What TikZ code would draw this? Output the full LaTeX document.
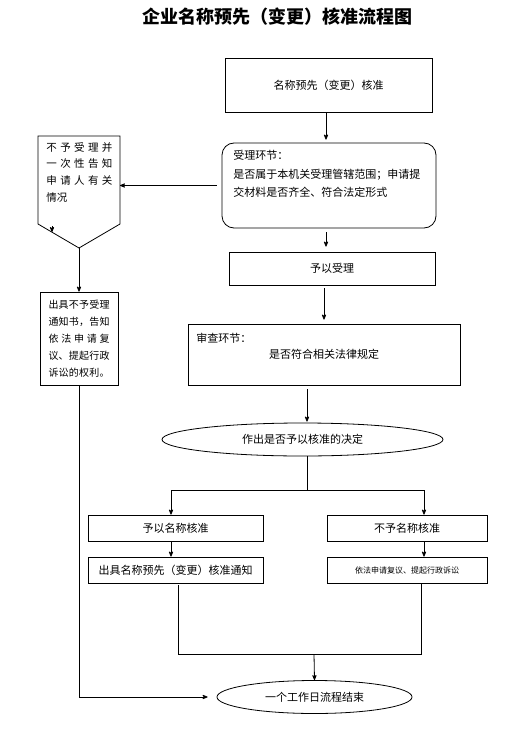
\documentclass[tikz,border=0pt]{standalone}
\usepackage{fontspec}
\setmainfont{Noto Sans CJK SC}
\usetikzlibrary{positioning,calc,arrows,shapes.geometric}

\begin{document}
\begin{tikzpicture}[x=1pt, y=-1pt, >=stealth', line width=.8pt,
    every node/.style={inner sep=0pt},
    box/.style={draw, font=\fontsize{11}{13}\selectfont},
    oval/.style={draw, ellipse, font=\fontsize{11}{13}\selectfont}]

    \useasboundingbox (0,0) rectangle (518,735);

    % title
    \node [font=\bfseries\fontsize{18}{20}\selectfont] (title) at (277,17) {企业名称预先（变更）核准流程图};

    % main column
    \node [box, minimum width=207, minimum height=54] (name) at (328.5,85) {名称预先（变更）核准};
    \node [box, rounded corners=12, minimum width=214, minimum height=85] (accept) at (329,185.5) {};
    \node [anchor=north west, align=left, font=\fontsize{11}{18.5}\selectfont] (accepttxt) at (233,150)
        {受理环节：\\是否属于本机关受理管辖范围；申请提\\交材料是否齐全、符合法定形式};
    \node [box, minimum width=206, minimum height=33] (take) at (332,268.5) {予以受理};
    \node [box, minimum width=272, minimum height=61] (review) at (324,354.5) {是否符合相关法律规定};
    \node [anchor=west, font=\fontsize{11}{13}\selectfont] (reviewhead) at (196,338) {审查环节：};
    \node [oval, minimum width=281, minimum height=33] (decide) at (302.5,439.5) {作出是否予以核准的决定};

    % two branches
    \node [box, minimum width=175, minimum height=26] (approve) at (175.5,528) {予以名称核准};
    \node [box, minimum width=175, minimum height=26] (notice) at (175.5,570) {出具名称预先（变更）核准通知};
    \node [box, minimum width=160, minimum height=26] (reject) at (407,528) {不予名称核准};
    \node [box, minimum width=160, minimum height=26, font=\fontsize{8}{10}\selectfont] (appeal) at (407,570) {依法申请复议、提起行政诉讼};
    \node [oval, minimum width=195, minimum height=33] (finish) at (314.5,697) {一个工作日流程结束};

    % left column
    \coordinate (tl) at (38,136);
    \coordinate (tr) at (120,136);
    \coordinate (br) at (120,224);
    \coordinate (bot) at (79,248);
    \coordinate (bl) at (38,224);
    \draw (tl) -- (tr) -- (br) -- (bot) -- (bl) -- cycle;
    \node [anchor=north west, align=left, font=\fontsize{10.5}{16.7}\selectfont] (tell) at (46,142)
        {\makebox[66pt]{不\hfill 予\hfill 受\hfill 理\hfill 并}\\
         \makebox[66pt]{一\hfill 次\hfill 性\hfill 告\hfill 知}\\
         \makebox[66pt]{申\hfill 请\hfill 人\hfill 有\hfill 关}\\
         情况};
    \node [box, minimum width=78, minimum height=93, align=left, font=\fontsize{10}{17}\selectfont] (deny) at (79,338.5)
        {\makebox[61pt]{出\hfill 具\hfill 不\hfill 予\hfill 受\hfill 理}\\
         \makebox[61pt]{通\hfill 知\hfill 书\hfill ，\hfill 告\hfill 知}\\
         \makebox[61pt]{依\hfill 法\hfill 申\hfill 请\hfill 复}\\
         \makebox[61pt]{议\hfill 、\hfill 提\hfill 起\hfill 行\hfill 政}\\
         \makebox[61pt]{诉\hfill 讼\hfill 的\hfill 权\hfill 利\hfill 。}};
    \coordinate (marka) at (52,226);
    \coordinate (markb) at (52,232);

    \coordinate (col) at (326,0);
    \coordinate (split) at (307,490);
    \coordinate (splitl) at (171,490);
    \coordinate (splitr) at (424,490);
    \coordinate (join) at (314,654);
    \coordinate (joinl) at (178,654);
    \coordinate (joinr) at (421,654);

    \draw [->, shorten >=3] (col |- name.south) -- (col |- accept.north);
    \draw [->, shorten <=5] (accept.west) -- (accept.west -| tr);
    \draw [->] (marka) -- (markb);
    \draw [->, shorten <=4, shorten >=5] (col |- accept.south) -- (col |- take.north);
    \draw [->, shorten <=3, shorten >=4] (review.north |- take.south) -- (review.north);
    \draw [->, shorten <=4, shorten >=1] (split |- review.south) -- (split |- decide.north);
    \draw (split |- decide.south) -- (split);
    \draw (splitl) -- (splitr);
    \draw [->] (splitl) -- (splitl |- approve.north);
    \draw [->] (splitr) -- (splitr |- reject.north);
    \draw [->] (splitl |- approve.south) -- (splitl |- notice.north);
    \draw [->] (splitr |- reject.south) -- (splitr |- appeal.north);
    \draw [shorten <=2] (joinl |- notice.south) -- (joinl) -- (joinr) -- (joinr |- appeal.south);
    \draw [->] (join) -- (finish.north);

    \draw [->] (bot) -- (deny.north);
    \draw [->, shorten >=9] (deny.south) |- (finish.west);

\end{tikzpicture}
\end{document}
